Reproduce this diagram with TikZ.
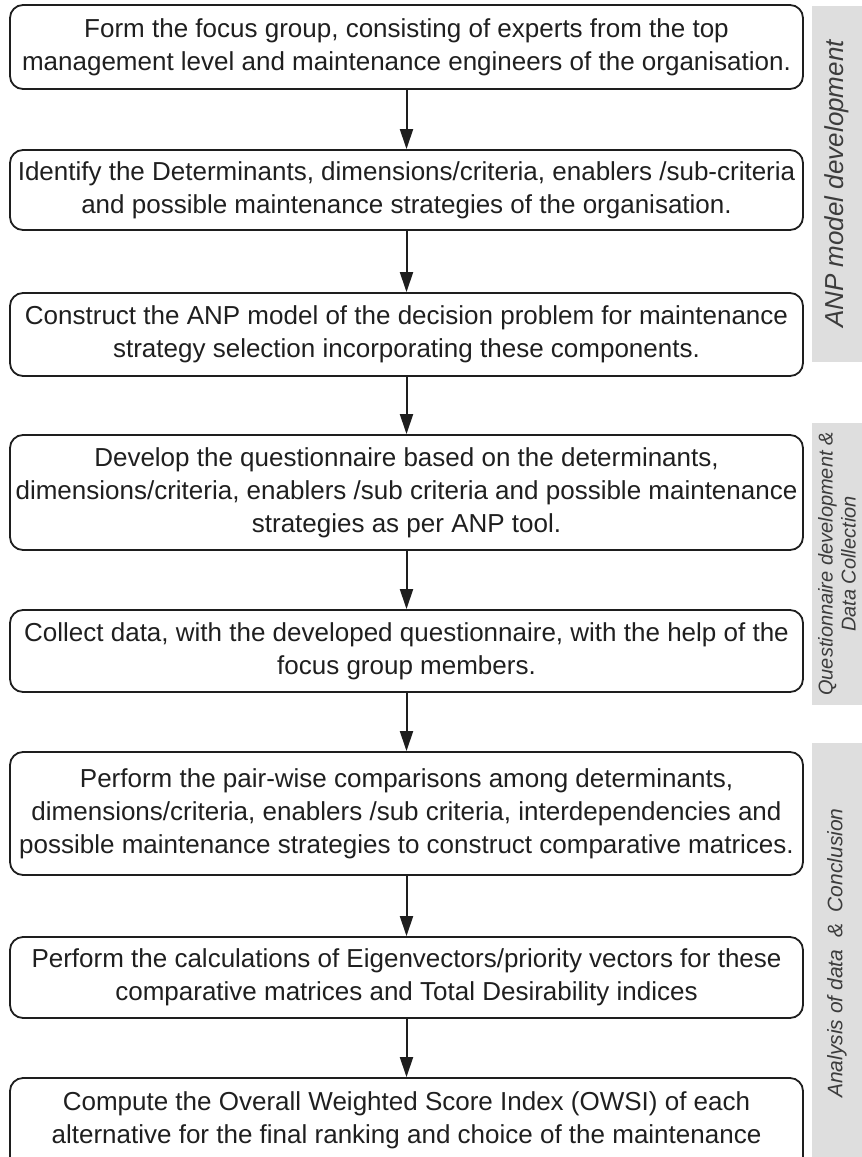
\documentclass[tikz,border=0pt]{standalone}
\usepackage{fontspec}
\setmainfont{Liberation Sans}
\usepackage{tikz}
\usetikzlibrary{positioning,arrows.meta}
\definecolor{stepLine}{RGB}{30,30,30}
\definecolor{bandGray}{RGB}{222,222,222}
\definecolor{bandText}{RGB}{60,60,60}

\begin{document}
\begin{tikzpicture}[x=1pt, y=1pt,
  stepbox/.style={draw=stepLine, line width=1.8pt, rounded corners=13pt, minimum width=793pt, align=center, font=\fontsize{26}{33}\selectfont, text=black!88},
  flow/.style={-{Triangle[length=20pt,width=13pt]}, line width=2pt, stepLine},
  band/.style={fill=bandGray, rotate=90, minimum height=50pt, inner sep=0pt, align=center, text=bandText}]
  \useasboundingbox (0,0) rectangle (862,-1157);
  \clip (0,0) rectangle (862,-1157);

  % Steps of the procedure
  \node[stepbox, minimum height=84pt] (form) at (406.5,-47) {Form the focus group, consisting of experts from the top\\management level and maintenance engineers of the organisation.};
  \node[stepbox, minimum height=80pt] (identify) at (406.5,-190) {Identify the Determinants, dimensions/criteria, enablers /sub-criteria\\and possible maintenance strategies of the organisation.};
  \node[stepbox, minimum height=83pt] (construct) at (406.5,-334.5) {Construct the ANP model of the decision problem for maintenance\\strategy selection incorporating these components.};
  \node[stepbox, minimum height=115pt] (develop) at (406.5,-492.5) {Develop the questionnaire based on the determinants,\\dimensions/criteria, enablers /sub criteria and possible maintenance\\strategies as per ANP tool.};
  \node[stepbox, minimum height=82pt] (collect) at (406.5,-651) {Collect data, with the developed questionnaire, with the help of the\\focus group members.};
  \node[stepbox, minimum height=123pt] (pairwise) at (406.5,-813.5) {Perform the pair-wise comparisons among determinants,\\dimensions/criteria, enablers /sub criteria, interdependencies and\\possible maintenance strategies to construct comparative matrices.};
  \node[stepbox, minimum height=81pt] (eigen) at (406.5,-977.5) {Perform the calculations of Eigenvectors/priority vectors for these\\comparative matrices and Total Desirability indices};
  \node[stepbox, minimum height=118pt] (owsi) at (406.5,-1137) {Compute the Overall Weighted Score Index (OWSI) of each\\alternative for the final ranking and choice of the maintenance\\strategy.};

  % Arrows
  \draw[flow] (form) -- (identify);
  \draw[flow] (identify) -- (construct);
  \draw[flow] (construct) -- (develop);
  \draw[flow] (develop) -- (collect);
  \draw[flow] (collect) -- (pairwise);
  \draw[flow] (pairwise) -- (eigen);
  \draw[flow] (eigen) -- (owsi);

  % Phase bands
  \node[band, minimum width=356pt, font=\itshape\fontsize{26}{30}\selectfont] (anpband) at (837,-184) {ANP model development};
  \node[band, minimum width=282pt, font=\itshape\fontsize{20}{23}\selectfont] (databand) at (837,-564) {Questionnaire development \&\\Data Collection};
  \node[band, minimum width=420pt, font=\itshape\fontsize{21}{25}\selectfont] (analysisband) at (837,-953) {Analysis of data ~\& ~Conclusion};
\end{tikzpicture}
\end{document}
